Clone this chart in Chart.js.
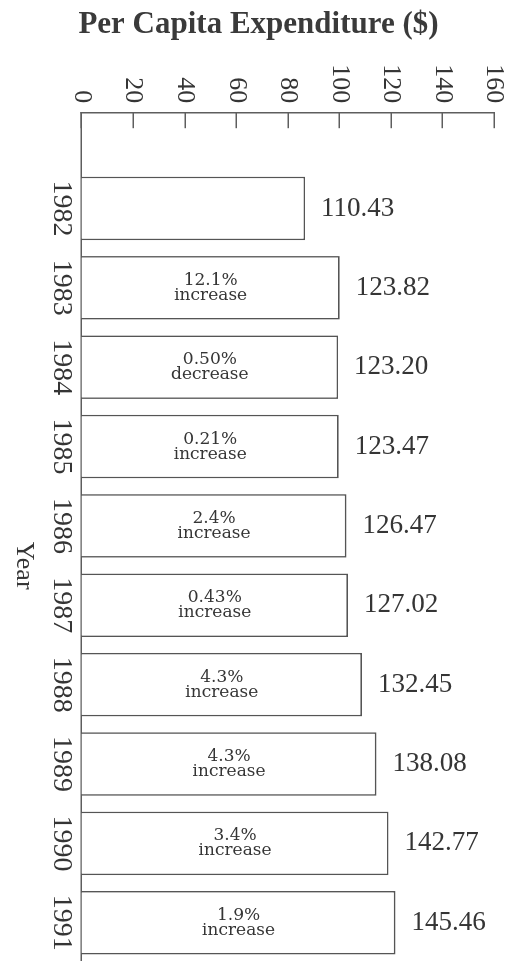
<!DOCTYPE html>
<html>
<head>
<meta charset="utf-8">
<script src="https://cdn.jsdelivr.net/npm/chart.js@4"></script>
<style>
  html, body { margin: 0; padding: 0; background: #fff; overflow: hidden; width: 509px; height: 961px; }
  /* the chart is laid out as a column chart and turned a quarter clockwise */
  #frame { position: absolute; left: 0; top: 0; width: 1018px; height: 509px;
           transform-origin: 0 0; transform: translate(509px, 0) rotate(90deg); }
</style>
</head>
<body>
<div id="frame"><canvas id="chart" width="1018" height="509"></canvas></div>
<script>
const years = [1982, 1983, 1984, 1985, 1986, 1987, 1988, 1989, 1990, 1991];
const spending = [110.43, 123.82, 123.20, 123.47, 126.47, 127.02, 132.45, 138.08, 142.77, 145.46];
const changePct = [null, '12.1%', '0.50%', '0.21%', '2.4%', '0.43%', '4.3%', '4.3%', '3.4%', '1.9%'];
const changeDir = [null, 'increase', 'decrease', 'increase', 'increase', 'increase', 'increase', 'increase', 'increase', 'increase'];
const valueTicks = [0, 20, 40, 60, 80, 100, 120, 140, 160];
const barBase = 23.8;   // dollar value at the foot of the bars; the axis counts from here

const ink = '#353535';
const rule = '#5e5e5e';

const barLabels = {
  id: 'barLabels',
  afterDatasetsDraw(chart) {
    const ctx = chart.ctx;
    const foot = chart.chartArea.bottom;
    const meta = chart.getDatasetMeta(0);
    meta.data.forEach((bar, i) => {
      // amount, just past the end of the bar
      ctx.save();
      ctx.fillStyle = ink;
      ctx.translate(bar.x, bar.y - 16);
      ctx.rotate(-Math.PI / 2);
      ctx.font = '27px "Liberation Serif"';
      ctx.textAlign = 'left';
      ctx.textBaseline = 'middle';
      ctx.fillText(spending[i].toFixed(2), 0, 0);
      ctx.restore();

      // year-on-year change, centred inside the visible bar
      if (changePct[i]) {
        ctx.save();
        ctx.fillStyle = ink;
        ctx.translate(bar.x, (bar.y + Math.min(bar.base, foot)) / 2);
        ctx.rotate(-Math.PI / 2);
        ctx.font = '17px "DejaVu Serif"';
        ctx.textAlign = 'center';
        ctx.textBaseline = 'alphabetic';
        ctx.fillText(changePct[i], 0, -3);
        ctx.fillText(changeDir[i], 0, 12);
        ctx.restore();
      }
    });
  }
};

new Chart(document.getElementById('chart'), {
  type: 'bar',
  data: {
    datasets: [{
      data: years.map((yr, i) => ({ x: yr, y: spending[i] })),
      backgroundColor: '#ffffff',
      borderColor: '#555555',
      borderWidth: 1.6,
      borderSkipped: false,
      categoryPercentage: 1,
      barPercentage: 0.8
    }]
  },
  options: {
    responsive: false,
    devicePixelRatio: 1,
    animation: false,
    layout: { padding: { top: 0, left: 0, right: 0, bottom: 8 } },
    plugins: {
      legend: { display: false },
      tooltip: { enabled: false },
      title: {
        display: true,
        position: 'left',
        text: 'Per Capita Expenditure ($)',
        color: '#3a3a3a',
        font: { family: 'Liberation Serif', size: 31, weight: 'bold' },
        padding: { top: 6, bottom: 0 }
      }
    },
    scales: {
      x: {
        type: 'linear',
        offset: false,
        min: 1980.8,
        max: 1992.2,
        afterBuildTicks: s => { s.ticks = years.map(v => ({ value: v })); },
        afterFit: s => { s.height = 73.7; s.paddingLeft = 0; s.paddingRight = 0; },
        ticks: {
          callback: v => String(v),
          autoSkip: false,
          maxRotation: 0,
          color: ink,
          padding: -4,
          font: { family: 'Liberation Serif', size: 28 }
        },
        grid: { display: false, offset: false },
        border: { display: true, color: rule, width: 1.5 },
        title: {
          display: true,
          text: 'Year',
          color: ink,
          padding: 0,
          font: { family: 'Liberation Serif', size: 26 }
        }
      },
      y: {
        type: 'linear',
        min: barBase,
        max: barBase + valueTicks[valueTicks.length - 1],
        afterBuildTicks: s => { s.ticks = valueTicks.map(v => ({ value: barBase + v })); },
        afterFit: s => { s.width = 70; s.paddingTop = 14.7; s.paddingBottom = 0; },
        ticks: {
          callback: (v, i) => String(valueTicks[i]),
          color: ink,
          padding: 25,
          font: { family: 'Liberation Serif', size: 26 }
        },
        grid: { drawOnChartArea: false, drawTicks: true, tickLength: -15, color: rule, lineWidth: 1.5 },
        border: { display: true, color: rule, width: 1.5 }
      }
    }
  },
  plugins: [barLabels]
});
</script>
</body>
</html>
